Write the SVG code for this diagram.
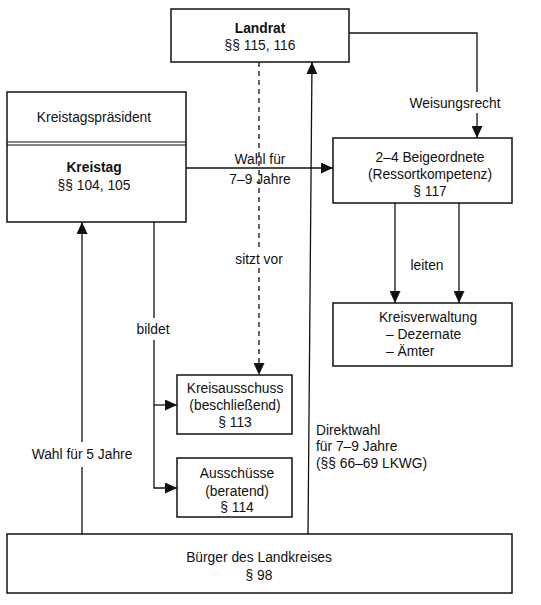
<svg xmlns="http://www.w3.org/2000/svg" width="541" height="605" viewBox="0 0 541 605">
<defs>
<marker id="arr" markerUnits="userSpaceOnUse" markerWidth="12" markerHeight="11" viewBox="0 0 12 11" refX="12" refY="5.5" orient="auto">
<path d="M0,0 L12,5.5 L0,11 z" fill="#111"/>
</marker>
</defs>
<style>
text{font-family:"Liberation Sans",Arial,sans-serif;font-size:13.8px;fill:#111;text-anchor:middle}
.b{font-weight:bold}
.l{text-anchor:start}
.box{fill:#fff;stroke:#111;stroke-width:1.5}
.c{fill:none;stroke:#111;stroke-width:1.3}
.d{stroke-dasharray:5,4}
</style>
<rect width="541" height="605" fill="#fff"/>
<g id="connectors">
<path class="c" d="M349,33 H477 V92"/>
<path class="c" d="M477,113 V138" marker-end="url(#arr)"/>
<path class="c" d="M186,168 H333" marker-end="url(#arr)"/>
<path class="c d" d="M259,62 V250"/>
<path class="c d" d="M259,268 V375" marker-end="url(#arr)"/>
<path class="c" d="M308,534 L312,62" marker-end="url(#arr)"/>
<path class="c" d="M82,534 V467"/>
<path class="c" d="M82,442 V222" marker-end="url(#arr)"/>
<path class="c" d="M154,222 V318"/>
<path class="c" d="M154,340 V488 H177" marker-end="url(#arr)"/>
<path class="c" d="M154,405 H177" marker-end="url(#arr)"/>
<path class="c" d="M395,203 V303" marker-end="url(#arr)"/>
<path class="c" d="M459,203 V303" marker-end="url(#arr)"/>
<text x="455" y="108">Weisungsrecht</text>
<text x="260" y="164">Wahl für</text>
<text x="260" y="184">7–9 Jahre</text>
<text x="259" y="264">sitzt vor</text>
<text x="153" y="334">bildet</text>
<text x="427" y="270">leiten</text>
<text x="82" y="459">Wahl für 5 Jahre</text>
<text class="l" x="316" y="435">Direktwahl</text>
<text class="l" x="316" y="451">für 7–9 Jahre</text>
<text class="l" x="316" y="468">(§§ 66–69 LKWG)</text>
</g>
<g id="landrat">
<rect class="box" x="171" y="9" width="178" height="53"/>
<text class="b" x="260" y="33">Landrat</text>
<text x="260" y="50">§§ 115, 116</text>
</g>
<g id="kreistag">
<rect class="box" x="7" y="92" width="179" height="130"/>
<line x1="7" y1="142" x2="186" y2="142" stroke="#111" stroke-width="1.2"/>
<line x1="7" y1="145" x2="186" y2="145" stroke="#111" stroke-width="1.2"/>
<text x="94" y="122">Kreistagspräsident</text>
<text class="b" x="94" y="172">Kreistag</text>
<text x="94" y="190">§§ 104, 105</text>
</g>
<g id="beigeordnete">
<rect class="box" x="333" y="138" width="179" height="65"/>
<text x="430" y="162">2–4 Beigeordnete</text>
<text x="430" y="179">(Ressortkompetenz)</text>
<text x="430" y="196">§ 117</text>
</g>
<g id="kreisverwaltung">
<rect class="box" x="333" y="303" width="179" height="63"/>
<text x="428" y="322">Kreisverwaltung</text>
<text class="l" x="386" y="339">– Dezernate</text>
<text class="l" x="386" y="356">– Ämter</text>
</g>
<g id="kreisausschuss">
<rect class="box" x="177" y="375" width="115" height="59"/>
<text x="235" y="393">Kreisausschuss</text>
<text x="235" y="410">(beschließend)</text>
<text x="235" y="427">§ 113</text>
</g>
<g id="ausschuesse">
<rect class="box" x="177" y="458" width="115" height="59"/>
<text x="237" y="478">Ausschüsse</text>
<text x="237" y="496">(beratend)</text>
<text x="237" y="512">§ 114</text>
</g>
<g id="buerger">
<rect class="box" x="7" y="534" width="505" height="59"/>
<text x="259" y="562">Bürger des Landkreises</text>
<text x="259" y="580">§ 98</text>
</g>
</svg>
